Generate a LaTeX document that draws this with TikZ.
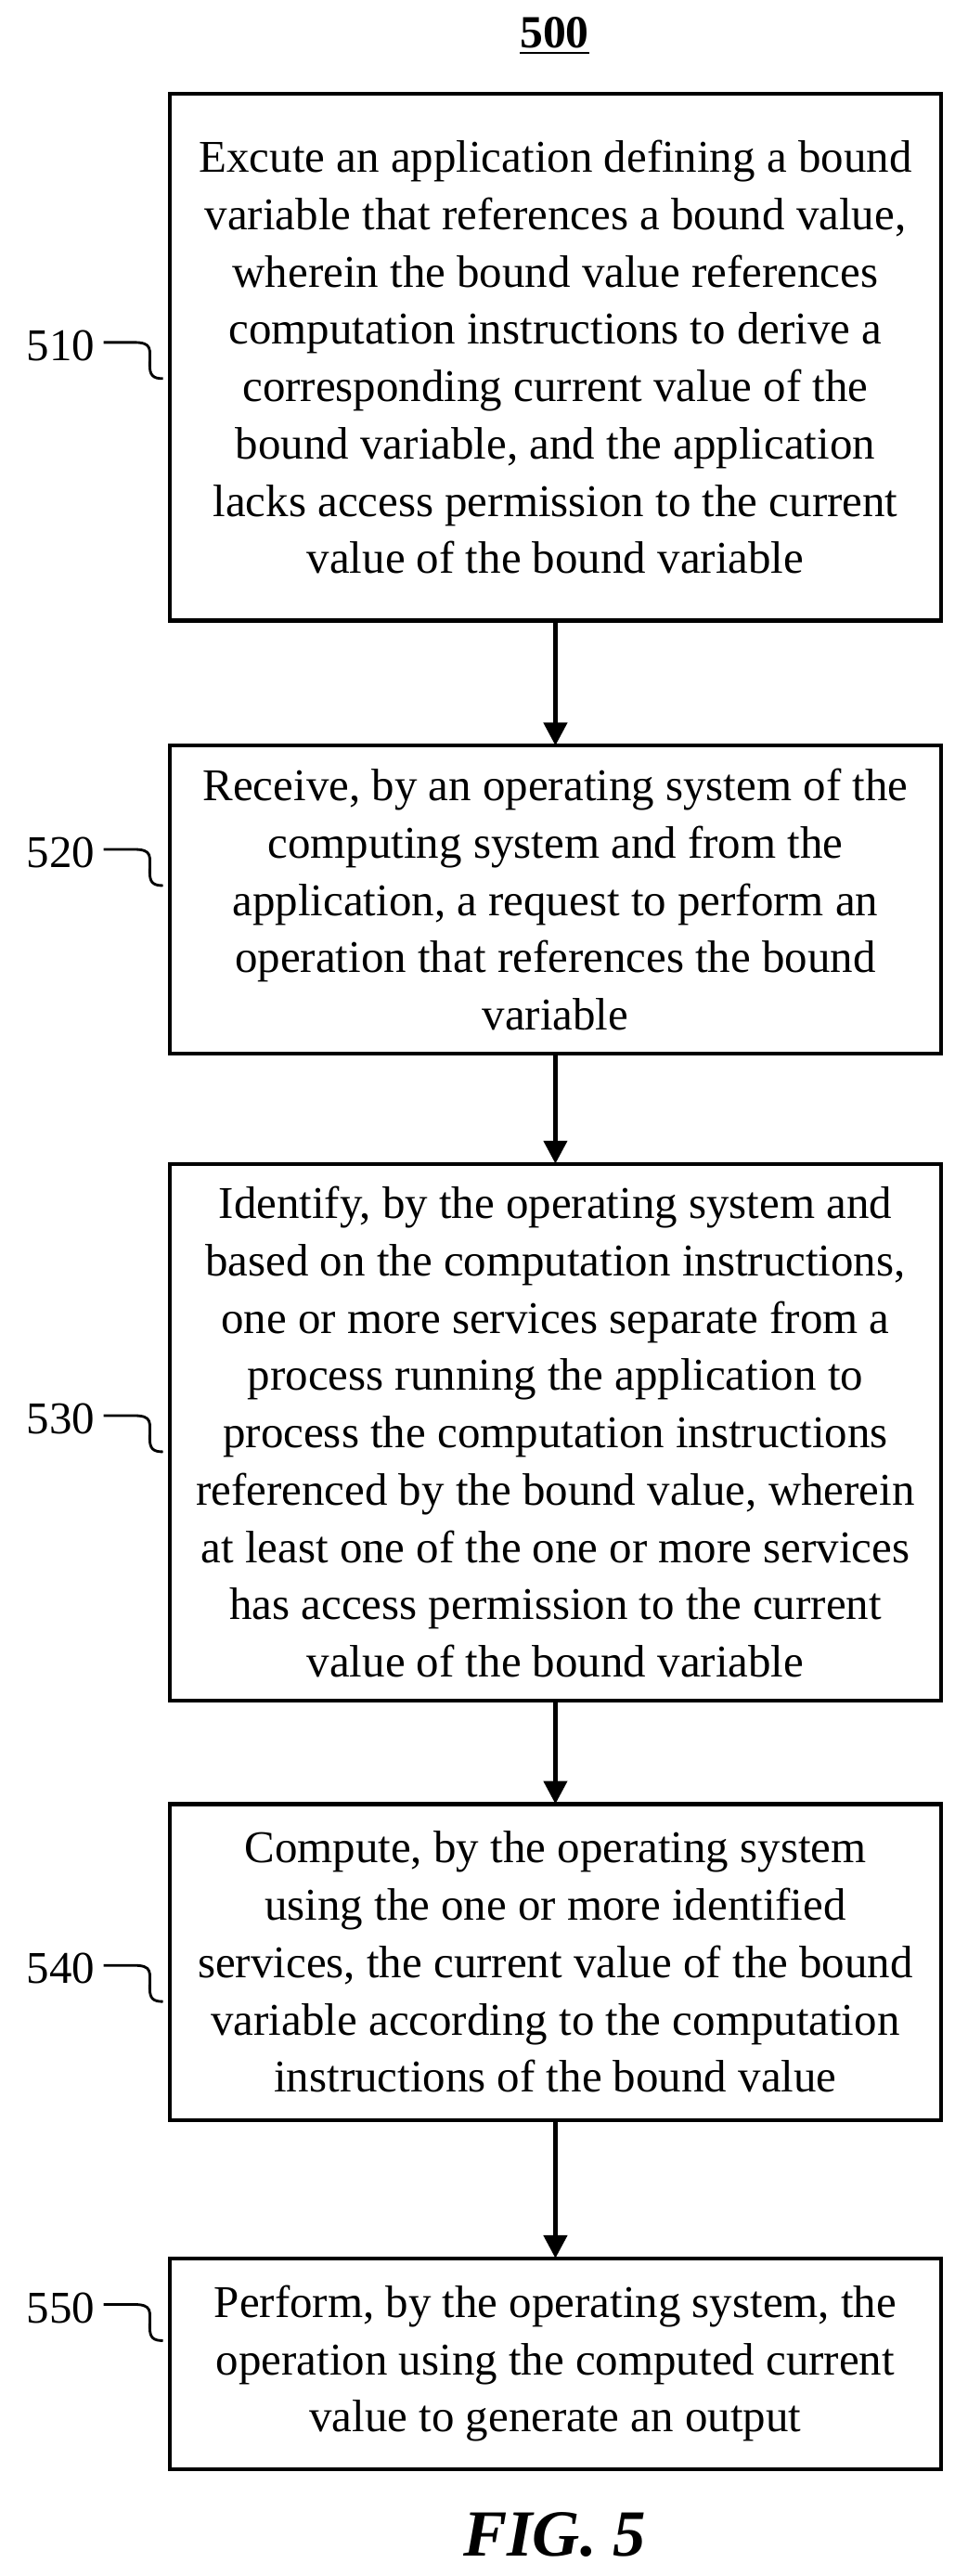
\documentclass[tikz,border=0pt]{standalone}
\usepackage{fontspec}
\setmainfont{Liberation Serif}
\usetikzlibrary{arrows.meta,positioning}
\tikzset{stepbox/.style={align=center,inner sep=0pt,font=\fontsize{13.8pt}{17.4pt}\selectfont},
  steplabel/.style={font=\fontsize{13.8pt}{15pt}\selectfont,anchor=east,inner sep=0pt},
  squiggle/.style={line width=0.8pt},
  flow/.style={-{Triangle[length=7pt,width=7pt]},line width=1.4pt}}
\begin{document}
\begin{tikzpicture}[x=0.5pt,y=-0.5pt]
\useasboundingbox (0,0) rectangle (580,1565);
% title
\node (title) at (337,22) {\fontsize{14pt}{15pt}\selectfont\bfseries\underline{500}};
% boxes
\draw[line width=1.2pt] (103,57) rectangle (572,377);
\node[stepbox] (s510) at (337.5,217) {Excute an application defining a bound\\variable that references a bound value,\\wherein the bound value references\\computation instructions to derive a\\corresponding current value of the\\bound variable, and the application\\lacks access permission to the current\\value of the bound variable};
\draw[line width=1.2pt] (103,453) rectangle (572,640);
\node[stepbox] (s520) at (337.5,546.5) {Receive, by an operating system of the\\computing system and from the\\application, a request to perform an\\operation that references the bound\\variable};
\draw[line width=1.2pt] (103,707) rectangle (572,1033);
\node[stepbox] (s530) at (337.5,870) {Identify, by the operating system and\\based on the computation instructions,\\one or more services separate from a\\process running the application to\\process the computation instructions\\referenced by the bound value, wherein\\at least one of the one or more services\\has access permission to the current\\value of the bound variable};
\draw[line width=1.2pt] (103,1096) rectangle (572,1288);
\node[stepbox] (s540) at (337.5,1192) {Compute, by the operating system\\using the one or more identified\\services, the current value of the bound\\variable according to the computation\\instructions of the bound value};
\draw[line width=1.2pt] (103,1372) rectangle (572,1500);
\node[stepbox] (s550) at (337.5,1436) {Perform, by the operating system, the\\operation using the computed current\\value to generate an output};
% arrows
\coordinate (b1) at (337.5,377); \coordinate (t2) at (337.5,453);
\coordinate (b2) at (337.5,640); \coordinate (t3) at (337.5,707);
\coordinate (b3) at (337.5,1033); \coordinate (t4) at (337.5,1096);
\coordinate (b4) at (337.5,1288); \coordinate (t5) at (337.5,1372);
\draw[flow] (b1) -- (t2);
\draw[flow] (b2) -- (t3);
\draw[flow] (b3) -- (t4);
\draw[flow] (b4) -- (t5);
% labels
\foreach \lab/\yy in {510/210,520/518,530/862,540/1196,550/1402}{
  \node[steplabel] (l\lab) at (58,\yy) {\lab};
  \draw[squiggle] (l\lab.east) ++(5,-2) -- ++(18,0) .. controls ++(12,0) and ++(0,-10) .. ++(10,14) .. controls ++(0,6) and ++(-6,0) .. ++(8,8);
}
\node (fig) at (337,1540) {\fontsize{20pt}{22pt}\selectfont\bfseries\itshape FIG. 5};
\end{tikzpicture}
\end{document}
